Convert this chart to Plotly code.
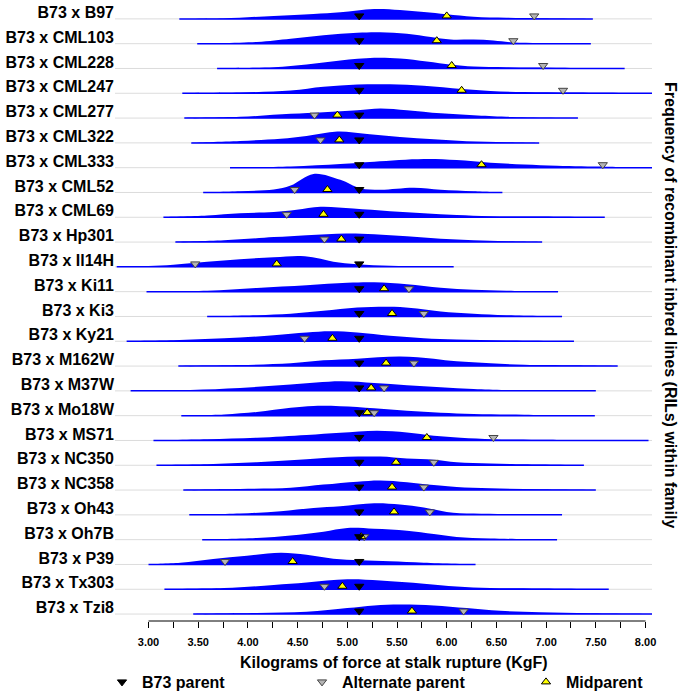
import plotly.graph_objects as go

# RIL families, top to bottom
families = [
    "B73 x B97", "B73 x CML103", "B73 x CML228", "B73 x CML247", "B73 x CML277",
    "B73 x CML322", "B73 x CML333", "B73 x CML52", "B73 x CML69", "B73 x Hp301",
    "B73 x Il14H", "B73 x Ki11", "B73 x Ki3", "B73 x Ky21", "B73 x M162W",
    "B73 x M37W", "B73 x Mo18W", "B73 x MS71", "B73 x NC350", "B73 x NC358",
    "B73 x Oh43", "B73 x Oh7B", "B73 x P39", "B73 x Tx303", "B73 x Tzi8",
]

b73_parent = 5.12
alt_parent = [6.88, 6.67, 6.97, 7.17, 4.67, 4.73, 7.57, 4.47, 4.39, 4.77,
              3.47, 5.62, 5.77, 4.57, 5.67, 5.37, 5.27, 6.47, 5.87, 5.77,
              5.83, 5.17, 3.77, 4.77, 6.17]
midparent = [6.00, 5.90, 6.05, 6.15, 4.90, 4.92, 6.35, 4.80, 4.76, 4.94,
             4.29, 5.37, 5.45, 4.85, 5.39, 5.24, 5.20, 5.80, 5.49, 5.45,
             5.47, 5.14, 4.45, 4.95, 5.65]

# density of RIL values (KgF) and relative frequency
dens_x = [
    [3.31, 3.75, 4.26, 4.66, 4.93, 5.27, 5.53, 5.77, 6.00, 6.27, 6.60, 6.94, 7.47],
    [3.49, 4.09, 4.43, 4.76, 5.10, 5.33, 5.60, 5.84, 6.04, 6.27, 6.47, 6.67, 6.94, 7.45],
    [3.69, 4.26, 4.59, 4.93, 5.27, 5.53, 5.80, 6.05, 6.27, 6.60, 7.10, 7.79],
    [3.34, 3.92, 4.43, 4.76, 5.10, 5.43, 5.77, 6.15, 6.44, 6.78, 7.28, 8.07],
    [3.36, 3.92, 4.43, 4.76, 5.10, 5.33, 5.60, 5.94, 6.27, 6.60, 7.32],
    [3.43, 3.92, 4.33, 4.59, 4.90, 5.20, 5.53, 5.87, 6.20, 6.60, 6.93],
    [3.82, 4.43, 4.93, 5.27, 5.77, 6.10, 6.44, 6.78, 7.11, 7.61, 8.07],
    [3.55, 3.92, 4.26, 4.43, 4.66, 4.93, 5.13, 5.33, 5.67, 5.94, 6.27, 6.56],
    [3.15, 3.59, 3.92, 4.26, 4.49, 4.73, 5.06, 5.43, 5.77, 6.10, 6.44, 6.94, 7.59],
    [3.27, 3.76, 4.26, 4.59, 4.99, 5.27, 5.60, 5.94, 6.27, 6.60, 6.96],
    [2.68, 3.00, 3.25, 3.59, 3.92, 4.26, 4.53, 4.69, 4.86, 5.10, 5.43, 5.77, 6.07],
    [2.98, 3.59, 4.09, 4.59, 5.00, 5.27, 5.60, 5.94, 6.27, 6.60, 7.12],
    [3.59, 4.09, 4.43, 4.76, 5.10, 5.47, 5.70, 5.94, 6.27, 6.60, 7.16],
    [2.78, 3.25, 3.76, 4.26, 4.59, 4.83, 5.10, 5.43, 5.77, 6.10, 6.60, 7.28],
    [3.30, 3.92, 4.43, 4.76, 5.10, 5.53, 5.87, 6.10, 6.44, 6.78, 7.28, 7.72],
    [2.82, 3.42, 3.92, 4.43, 4.93, 5.27, 5.60, 5.94, 6.27, 6.60, 7.50],
    [3.33, 3.76, 4.09, 4.43, 4.66, 4.93, 5.27, 5.60, 5.94, 6.27, 6.78, 7.49],
    [3.05, 3.59, 4.09, 4.59, 4.93, 5.30, 5.60, 5.87, 6.14, 6.47, 6.94, 8.03],
    [3.08, 3.59, 4.09, 4.59, 5.00, 5.33, 5.60, 5.87, 6.10, 6.44, 6.78, 7.38],
    [3.35, 3.92, 4.43, 4.76, 5.10, 5.33, 5.60, 5.87, 6.10, 6.44, 6.94, 7.50],
    [3.41, 3.92, 4.33, 4.66, 4.93, 5.27, 5.53, 5.77, 6.00, 6.27, 6.60, 7.16],
    [3.54, 4.09, 4.43, 4.76, 5.00, 5.27, 5.60, 5.87, 6.10, 6.44, 7.11],
    [3.00, 3.32, 3.65, 3.99, 4.33, 4.59, 4.86, 5.13, 5.43, 5.77, 6.29],
    [3.16, 3.76, 4.26, 4.59, 5.00, 5.33, 5.77, 6.10, 6.44, 6.94, 7.63],
    [3.45, 4.09, 4.59, 5.00, 5.27, 5.53, 5.87, 6.20, 6.54, 6.94, 7.44, 8.07],
]
dens_h = [
    [0, 0.02, 0.12, 0.20, 0.27, 0.40, 0.36, 0.28, 0.19, 0.09, 0.05, 0.03, 0],
    [0, 0.07, 0.20, 0.34, 0.44, 0.46, 0.40, 0.27, 0.17, 0.17, 0.13, 0.05, 0.03, 0],
    [0, 0.05, 0.16, 0.32, 0.43, 0.40, 0.28, 0.15, 0.08, 0.05, 0.03, 0],
    [0, 0.03, 0.11, 0.26, 0.35, 0.36, 0.30, 0.17, 0.09, 0.05, 0.03, 0],
    [0, 0.05, 0.17, 0.24, 0.32, 0.39, 0.32, 0.19, 0.11, 0.05, 0],
    [0, 0.08, 0.17, 0.28, 0.46, 0.36, 0.24, 0.15, 0.07, 0.03, 0],
    [0, 0.05, 0.15, 0.24, 0.35, 0.31, 0.20, 0.13, 0.08, 0.04, 0],
    [0, 0.05, 0.12, 0.28, 0.75, 0.51, 0.17, 0.11, 0.19, 0.11, 0.05, 0],
    [0, 0.07, 0.16, 0.21, 0.30, 0.42, 0.35, 0.24, 0.16, 0.09, 0.04, 0.03, 0],
    [0, 0.07, 0.20, 0.28, 0.35, 0.32, 0.23, 0.13, 0.07, 0.03, 0],
    [0, 0.04, 0.09, 0.21, 0.31, 0.39, 0.44, 0.36, 0.21, 0.11, 0.05, 0.03, 0],
    [0, 0.04, 0.15, 0.26, 0.36, 0.38, 0.30, 0.16, 0.08, 0.04, 0],
    [0, 0.05, 0.11, 0.23, 0.36, 0.39, 0.32, 0.20, 0.11, 0.05, 0],
    [0, 0.04, 0.12, 0.24, 0.35, 0.40, 0.35, 0.22, 0.12, 0.07, 0.03, 0],
    [0, 0.04, 0.11, 0.23, 0.30, 0.39, 0.30, 0.19, 0.11, 0.05, 0.03, 0],
    [0, 0.04, 0.12, 0.26, 0.39, 0.32, 0.23, 0.15, 0.08, 0.04, 0],
    [0, 0.05, 0.15, 0.32, 0.39, 0.38, 0.30, 0.20, 0.12, 0.07, 0.04, 0],
    [0, 0.05, 0.11, 0.22, 0.31, 0.39, 0.32, 0.19, 0.11, 0.05, 0.03, 0],
    [0, 0.04, 0.12, 0.24, 0.34, 0.35, 0.27, 0.22, 0.12, 0.07, 0.04, 0],
    [0, 0.04, 0.09, 0.22, 0.34, 0.39, 0.32, 0.20, 0.12, 0.07, 0.03, 0],
    [0, 0.05, 0.15, 0.28, 0.35, 0.47, 0.42, 0.30, 0.12, 0.05, 0.03, 0],
    [0, 0.07, 0.17, 0.32, 0.47, 0.44, 0.36, 0.23, 0.11, 0.05, 0],
    [0, 0.07, 0.22, 0.35, 0.47, 0.39, 0.23, 0.17, 0.13, 0.07, 0],
    [0, 0.05, 0.17, 0.27, 0.40, 0.35, 0.22, 0.11, 0.05, 0.03, 0],
    [0, 0.04, 0.09, 0.24, 0.35, 0.39, 0.35, 0.24, 0.13, 0.07, 0.03, 0],
]

tick_vals = [3.00, 3.25, 3.50, 3.75, 4.00, 4.25, 4.50, 4.75, 5.00, 5.25, 5.50,
             5.75, 6.00, 6.25, 6.50, 6.75, 7.00, 7.25, 7.50, 7.75, 8.00]
tick_text = ["3.00", "", "3.50", "", "4.00", "", "4.50", "", "5.00", "", "5.50",
             "", "6.00", "", "6.50", "", "7.00", "", "7.50", "", "8.00"]

BLUE = "#0000ff"
FONT = "Liberation Sans, Arial, sans-serif"
n = len(families)
base = [n - 1 - i for i in range(n)]
mk_off = 0.12

fig = go.Figure()

for i in range(n):
    xs, hs, b = dens_x[i], dens_h[i], base[i]
    fig.add_trace(go.Scatter(
        x=xs + xs[::-1], y=[b + h for h in hs] + [b] * len(xs),
        fill="toself", fillcolor=BLUE, mode="lines",
        line=dict(width=0, shape="spline", smoothing=1, color=BLUE),
        showlegend=False, hoverinfo="skip"))
    fig.add_trace(go.Scatter(
        x=[xs[0], xs[-1]], y=[b, b], mode="lines",
        line=dict(color=BLUE, width=1.5),
        showlegend=False, hoverinfo="skip"))

fig.add_trace(go.Scatter(
    x=alt_parent, y=[b + mk_off for b in base], mode="markers",
    name="Alternate parent", legend="legend2",
    marker=dict(symbol="triangle-down", size=8, color="#b4b4b4",
                line=dict(color="#444444", width=1))))
fig.add_trace(go.Scatter(
    x=midparent, y=[b + mk_off for b in base], mode="markers",
    name="Midparent", legend="legend3",
    marker=dict(symbol="triangle-up", size=8, color="#ffff00",
                line=dict(color="#000000", width=1))))
fig.add_trace(go.Scatter(
    x=[b73_parent] * n, y=[b + mk_off for b in base], mode="markers",
    name="B73 parent", legend="legend",
    marker=dict(symbol="triangle-down", size=8, color="#000000",
                line=dict(color="#000000", width=1))))

shapes = [dict(type="line", xref="paper", x0=0, x1=1, y0=b, y1=b,
               line=dict(color="#dcdcdc", width=1), layer="below") for b in base]
shapes.append(dict(type="line", xref="x", yref="paper", x0=tick_vals[0],
                   x1=tick_vals[-1], y0=0, y1=0, line=dict(color="black", width=1)))

legend_font = dict(family=FONT, size=16, color="black", weight="bold")
leg = dict(xref="container", yref="container", y=0.0173, xanchor="left",
           yanchor="middle", font=legend_font, bgcolor="rgba(0,0,0,0)")
fig.update_layout(
    width=685, height=694,
    margin=dict(l=115, r=33, t=5, b=73, autoexpand=False),
    plot_bgcolor="white", paper_bgcolor="white",
    font=dict(family=FONT, color="black"),
    shapes=shapes,
    xaxis=dict(range=[2.663, 8.065], tickvals=tick_vals, ticktext=tick_text,
               ticks="outside", ticklen=6, tickwidth=1, tickcolor="black",
               showgrid=False, zeroline=False, showline=False,
               ticklabelstandoff=5, automargin=False,
               tickfont=dict(family=FONT, size=11, weight="bold")),
    yaxis=dict(range=[-0.28, 24.56], tickvals=[b + 0.26 for b in base],
               ticktext=families, showgrid=False, zeroline=False,
               showline=False, ticks="", automargin=False,
               ticklabeloverflow="allow",
               tickfont=dict(family=FONT, size=16, weight="bold")),
    legend=dict(leg, x=0.1489),
    legend2=dict(leg, x=0.4409),
    legend3=dict(leg, x=0.7679),
    annotations=[
        dict(text="Kilograms of force at stalk rupture (KgF)", xref="paper",
             yref="paper", x=0.52, y=-0.068, showarrow=False,
             xanchor="center", yanchor="middle",
             font=dict(family=FONT, size=16, weight="bold")),
        dict(text="Frequency of recombinant inbred lines (RILs) within family",
             xref="paper", yref="paper", x=1.0335, y=0.513, textangle=90,
             showarrow=False, xanchor="center", yanchor="middle",
             font=dict(family=FONT, size=16, weight="bold")),
    ],
)

fig.write_html("out.html", config={"displayModeBar": False},
               post_script="document.body.style.margin = '0px';")
